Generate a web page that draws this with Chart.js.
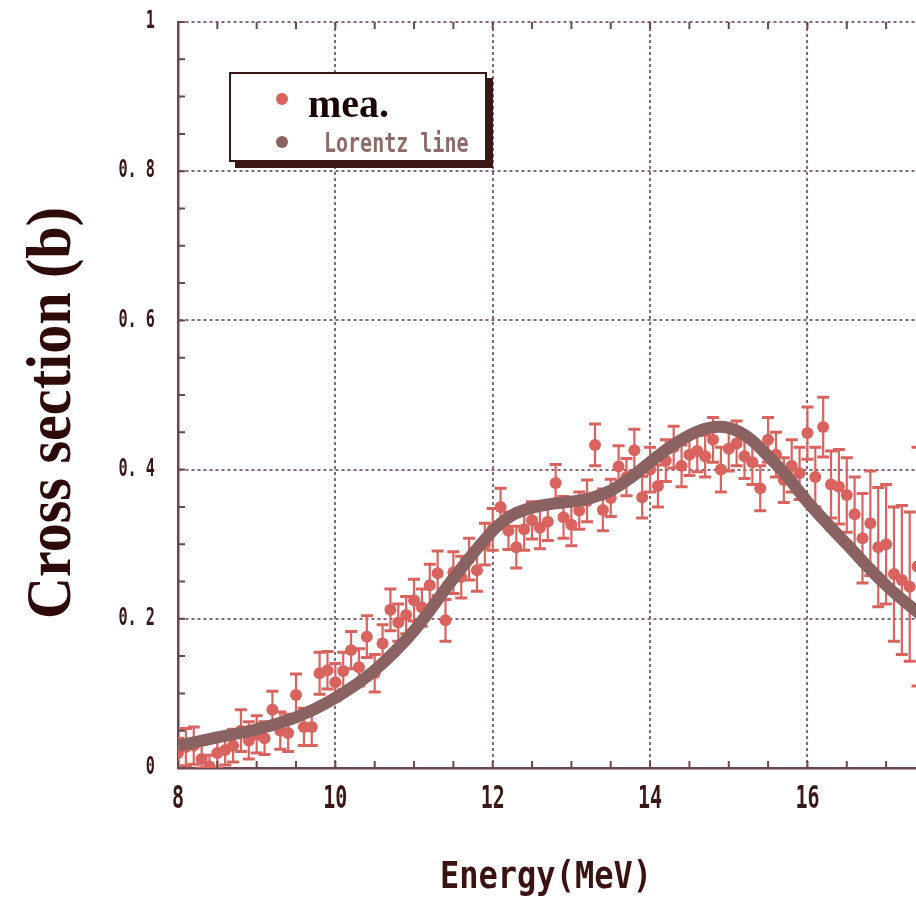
<!DOCTYPE html>
<html>
<head>
<meta charset="utf-8">
<script src="https://cdn.jsdelivr.net/npm/chart.js@4.4.1/dist/chart.umd.min.js"></script>
<style>
    html, body { margin: 0; padding: 0; background: #fff; overflow: hidden; }
    #wrap { width: 916px; height: 898px; position: relative; }
</style>
</head>
<body>
<div id="wrap"><canvas id="xsChart"></canvas></div>
<script>
// measured points (energy in MeV, cross section in b, error)
const meaE = [8.0, 8.1, 8.2, 8.3, 8.4, 8.5, 8.6, 8.7, 8.8, 8.9,
              9.0, 9.1, 9.2, 9.3, 9.4, 9.5, 9.6, 9.7, 9.8, 9.9,
              10.0, 10.1, 10.2, 10.3, 10.4, 10.5, 10.6, 10.7, 10.8, 10.9,
              11.0, 11.1, 11.2, 11.3, 11.4, 11.5, 11.6, 11.7, 11.8, 11.9,
              12.0, 12.1, 12.2, 12.3, 12.4, 12.5, 12.6, 12.7, 12.8, 12.9,
              13.0, 13.1, 13.2, 13.3, 13.4, 13.5, 13.6, 13.7, 13.8, 13.9,
              14.0, 14.1, 14.2, 14.3, 14.4, 14.5, 14.6, 14.7, 14.8, 14.9,
              15.0, 15.1, 15.2, 15.3, 15.4, 15.5, 15.6, 15.7, 15.8, 15.9,
              16.0, 16.1, 16.2, 16.3, 16.4, 16.5, 16.6, 16.7, 16.8, 16.9,
              17.0, 17.1, 17.2, 17.3, 17.4];
const meaY = [0.020, 0.028, 0.030, 0.012, 0.002, 0.020, 0.024, 0.030, 0.050, 0.037,
              0.045, 0.040, 0.078, 0.050, 0.047, 0.098, 0.055, 0.055, 0.127, 0.131,
              0.115, 0.130, 0.158, 0.135, 0.176, 0.127, 0.167, 0.212, 0.195, 0.205,
              0.225, 0.215, 0.245, 0.261, 0.198, 0.262, 0.256, 0.280, 0.265, 0.300,
              0.320, 0.350, 0.318, 0.296, 0.320, 0.332, 0.322, 0.330, 0.382, 0.336,
              0.326, 0.345, 0.358, 0.433, 0.346, 0.362, 0.404, 0.390, 0.426, 0.363,
              0.400, 0.378, 0.412, 0.430, 0.405, 0.420, 0.425, 0.418, 0.440, 0.400,
              0.428, 0.435, 0.418, 0.410, 0.375, 0.440, 0.420, 0.386, 0.405, 0.395,
              0.449, 0.390, 0.457, 0.380, 0.377, 0.366, 0.340, 0.308, 0.328, 0.296,
              0.300, 0.260, 0.252, 0.243, 0.270];
const meaErr = [0.020, 0.025, 0.025, 0.020, 0.015, 0.020, 0.020, 0.022, 0.028, 0.025,
                0.025, 0.022, 0.025, 0.025, 0.025, 0.028, 0.025, 0.025, 0.028, 0.025,
                0.025, 0.025, 0.025, 0.025, 0.028, 0.025, 0.025, 0.028, 0.025, 0.025,
                0.028, 0.025, 0.028, 0.030, 0.028, 0.028, 0.028, 0.028, 0.028, 0.028,
                0.028, 0.025, 0.025, 0.028, 0.028, 0.025, 0.028, 0.025, 0.025, 0.028,
                0.028, 0.025, 0.028, 0.028, 0.028, 0.025, 0.028, 0.025, 0.028, 0.028,
                0.030, 0.028, 0.028, 0.028, 0.028, 0.028, 0.028, 0.028, 0.030, 0.030,
                0.030, 0.030, 0.030, 0.030, 0.030, 0.030, 0.030, 0.030, 0.035, 0.035,
                0.035, 0.040, 0.040, 0.045, 0.050, 0.050, 0.050, 0.060, 0.070, 0.080,
                0.080, 0.090, 0.100, 0.100, 0.160];

// fitted Lorentz line
const lorentzE = [8.0, 8.5, 9.0, 9.5, 10.0, 10.5, 11.0, 11.5, 12.0, 12.25, 12.5, 12.75, 13.0,
                  13.25, 13.5, 13.75, 14.0, 14.25, 14.5, 14.75, 15.0, 15.25, 15.5, 15.75,
                  16.0, 16.5, 17.0, 17.5];
const lorentzY = [0.030, 0.041, 0.052, 0.068, 0.094, 0.131, 0.184, 0.254, 0.318, 0.339, 0.349, 0.354, 0.357,
                  0.362, 0.372, 0.389, 0.410, 0.430, 0.446, 0.456, 0.456, 0.443, 0.418, 0.390,
                  0.357, 0.300, 0.245, 0.200];

// axes
const xTickValues = [8, 10, 12, 14, 16];
const xTickLabels = ['8', '10', '12', '14', '16'];
const yTickValues = [0, 0.2, 0.4, 0.6, 0.8, 1];
const yTickLabels = ['0', '0. 2', '0. 4', '0. 6', '0. 8', '1'];
const legendLabels = ['mea.', 'Lorentz line'];
const xTitle = 'Energy(MeV)';
const yTitle = 'Cross section (b)';

const MEA_COLOR = '#d9635f';
const LINE_COLOR = '#8b6262';
const GRID_COLOR = '#8c6672';
const AXIS_COLOR = '#6a4650';
const TEXT_DARK = '#2e0b0b';

// error bars under the measured markers
const errorBars = {
    id: 'errorBars',
    beforeDatasetDraw(chart, args) {
        if (args.index !== 1) return;
        const { ctx, chartArea, scales } = chart;
        ctx.save();
        ctx.beginPath();
        ctx.rect(chartArea.left, chartArea.top, chartArea.right - chartArea.left, chartArea.bottom - chartArea.top);
        ctx.clip();
        ctx.strokeStyle = MEA_COLOR;
        meaE.forEach((e, i) => {
            const px = scales.x.getPixelForValue(e);
            const top = scales.y.getPixelForValue(meaY[i] + meaErr[i]);
            const bot = scales.y.getPixelForValue(Math.max(meaY[i] - meaErr[i], 0));
            ctx.lineWidth = 2.2;
            ctx.beginPath();
            ctx.moveTo(px, top);
            ctx.lineTo(px, bot);
            ctx.stroke();
            ctx.lineWidth = 3;
            ctx.beginPath();
            ctx.moveTo(px - 6, top); ctx.lineTo(px + 6, top);
            ctx.moveTo(px - 6, bot); ctx.lineTo(px + 6, bot);
            ctx.stroke();
        });
        ctx.restore();
    }
};

// inward minor ticks, stretched tick labels, axis titles and the boxed legend
const frameDeco = {
    id: 'frameDeco',
    afterDraw(chart) {
        const { ctx, chartArea, scales } = chart;
        const xs = scales.x, ys = scales.y;
        ctx.save();

        // minor ticks
        ctx.strokeStyle = AXIS_COLOR;
        ctx.lineWidth = 2;
        ctx.beginPath();
        for (let v = 8; v <= xs.max; v += 0.5) {
            const px = xs.getPixelForValue(v);
            ctx.moveTo(px, chartArea.bottom); ctx.lineTo(px, chartArea.bottom - 7);
            ctx.moveTo(px, chartArea.top); ctx.lineTo(px, chartArea.top + 7);
        }
        for (let i = 0; i <= 20; i++) {
            const py = ys.getPixelForValue(i * 0.05);
            ctx.moveTo(chartArea.left, py); ctx.lineTo(chartArea.left + 7, py);
        }
        ctx.stroke();

        // tick labels
        ctx.fillStyle = '#3a1818';
        ctx.font = 'bold 16px "DejaVu Sans Mono"';
        ctx.textAlign = 'right';
        ctx.textBaseline = 'middle';
        yTickValues.forEach((v, i) => {
            ctx.save();
            ctx.translate(chartArea.left - 23, ys.getPixelForValue(v));
            ctx.scale(0.95, 1.5);
            ctx.fillText(yTickLabels[i], 0, 0);
            ctx.restore();
        });
        ctx.font = 'bold 20px "DejaVu Sans Mono"';
        ctx.textAlign = 'center';
        xTickValues.forEach((v, i) => {
            ctx.save();
            ctx.translate(xs.getPixelForValue(v), chartArea.bottom + 32);
            ctx.scale(1, 1.6);
            ctx.fillText(xTickLabels[i], 0, 0);
            ctx.restore();
        });

        // x title
        ctx.save();
        ctx.fillStyle = '#3a1212';
        ctx.font = 'bold 32px "DejaVu Sans Mono"';
        ctx.textAlign = 'center';
        ctx.textBaseline = 'alphabetic';
        ctx.translate(546, 888);
        ctx.scale(1, 1.15);
        ctx.fillText(xTitle, 0, 0);
        ctx.restore();

        // y title
        ctx.save();
        ctx.fillStyle = TEXT_DARK;
        ctx.font = 'bold 64px "Liberation Serif"';
        ctx.textAlign = 'center';
        ctx.textBaseline = 'alphabetic';
        const w = ctx.measureText(yTitle).width;
        ctx.translate(70, 413);
        ctx.rotate(-Math.PI / 2);
        ctx.scale(412 / w, 1);
        ctx.fillText(yTitle, 0, 0);
        ctx.restore();

        // legend box with drop shadow
        ctx.fillStyle = '#3a1616';
        ctx.fillRect(235, 78, 258, 90);
        ctx.fillStyle = '#ffffff';
        ctx.fillRect(229, 72, 258, 90);
        ctx.strokeStyle = '#3a1616';
        ctx.lineWidth = 2;
        ctx.strokeRect(230, 73, 256, 88);

        ctx.fillStyle = MEA_COLOR;
        ctx.beginPath(); ctx.arc(282, 99, 6, 0, Math.PI * 2); ctx.fill();
        ctx.fillStyle = LINE_COLOR;
        ctx.beginPath(); ctx.arc(282, 142, 6, 0, Math.PI * 2); ctx.fill();

        ctx.textAlign = 'left';
        ctx.textBaseline = 'alphabetic';
        ctx.fillStyle = '#1a0505';
        ctx.font = 'bold 40px "Liberation Serif"';
        ctx.fillText(legendLabels[0], 308, 117);
        ctx.save();
        ctx.fillStyle = '#8f6a6a';
        ctx.font = 'bold 20px "DejaVu Sans Mono"';
        ctx.translate(324, 152);
        ctx.scale(1, 1.35);
        ctx.fillText(legendLabels[1], 0, 0);
        ctx.restore();

        ctx.restore();
    }
};

const lorentzData = lorentzE.map((e, i) => ({ x: e, y: lorentzY[i] }));
const meaData = meaE.map((e, i) => ({ x: e, y: meaY[i] }));

new Chart(document.getElementById('xsChart'), {
    type : 'scatter',
    data : {
        datasets : [ {
            label : legendLabels[1],
            data : lorentzData,
            showLine : true,
            borderColor : LINE_COLOR,
            borderWidth : 12,
            pointRadius : 0,
            tension : 0.4,
            fill : false
        }, {
            label : legendLabels[0],
            data : meaData,
            backgroundColor : MEA_COLOR,
            borderColor : MEA_COLOR,
            borderWidth : 0,
            pointRadius : 6
        } ]
    },
    options : {
        responsive : true,
        maintainAspectRatio : false,
        animation : false,
        events : [],
        layout : {
            autoPadding : false,
            padding : { top : 22, left : 0, right : 0, bottom : 0 }
        },
        plugins : {
            legend : { display : false },
            tooltip : { enabled : false }
        },
        scales : {
            x : {
                type : 'linear',
                min : 8,
                max : 17.38,
                afterBuildTicks : scale => { scale.ticks = xTickValues.map(v => ({ value : v })); },
                afterFit : scale => { scale.height = 130; },
                ticks : { display : false, includeBounds : false },
                grid : {
                    color : GRID_COLOR,
                    lineWidth : 2,
                    drawTicks : false
                },
                border : { display : true, color : AXIS_COLOR, width : 2.5, dash : [3, 3] }
            },
            y : {
                type : 'linear',
                min : 0,
                max : 1,
                afterBuildTicks : scale => { scale.ticks = yTickValues.map(v => ({ value : v })); },
                afterFit : scale => { scale.width = 178; },
                ticks : { display : false, includeBounds : false },
                grid : {
                    color : GRID_COLOR,
                    lineWidth : 2,
                    drawTicks : false
                },
                border : { display : true, color : AXIS_COLOR, width : 2.5, dash : [3, 3] }
            }
        }
    },
    plugins : [ errorBars, frameDeco ]
});
</script>
</body>
</html>
